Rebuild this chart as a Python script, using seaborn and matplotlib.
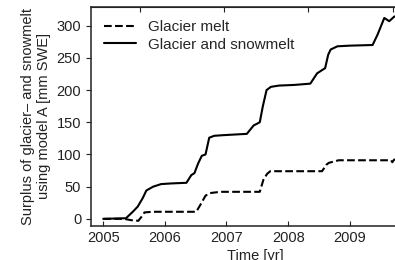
import matplotlib
matplotlib.use("Agg")
import matplotlib.pyplot as plt
import seaborn as sns

# Glacier + snowmelt surplus (model A)
t_both = [2005.0, 2005.37, 2005.48, 2005.56, 2005.64, 2005.7, 2005.81, 2005.94,
          2006.1, 2006.35, 2006.43, 2006.48, 2006.54, 2006.6, 2006.66, 2006.72,
          2006.8, 2006.95, 2007.33, 2007.44, 2007.54, 2007.59, 2007.65, 2007.72,
          2007.85, 2008.1, 2008.36, 2008.47, 2008.55, 2008.6, 2008.65, 2008.69,
          2008.8, 2009.0, 2009.37, 2009.45, 2009.56, 2009.64, 2009.72, 2009.85]
v_both = [0, 1, 11, 19, 32, 44, 50, 54,
          55, 56, 68, 71, 86, 98, 100, 126,
          129, 130, 132, 145, 150, 175, 200, 205,
          207, 208, 210, 226, 231, 234, 255, 263,
          268, 269, 270, 286, 312, 307, 314, 318]

# Glacier melt only
t_glac = [2005.0, 2005.34, 2005.45, 2005.57, 2005.62, 2005.67, 2005.8, 2006.51,
          2006.59, 2006.66, 2006.73, 2006.9, 2007.54, 2007.6, 2007.66, 2007.71,
          2008.55, 2008.62, 2008.66, 2008.82, 2009.67, 2009.69, 2009.72, 2009.85]
v_glac = [0, 0, -2, -3, 3, 10, 11, 11,
          24, 36, 40, 42, 42, 61, 70, 74,
          74, 84, 87, 91, 91, 88, 92, 92]

x_ticks = [2005, 2006, 2007, 2008, 2009, 2010]
y_ticks = [0, 50, 100, 150, 200, 250, 300]
top_ticks = [2005.59, 2006.96, 2008.33, 2009.70]

sns.set_style("ticks")
plt.rcParams['font.family'] = ['Liberation Sans', 'DejaVu Sans']
plt.rcParams['font.size'] = 10.5

fig = plt.figure(figsize=(3.95, 2.6), dpi=100)
ax = fig.add_axes([0.230, 0.131, 0.835, 0.842])

sns.lineplot(x=t_glac, y=v_glac, ax=ax, color='black', lw=1.5, ls='--',
             estimator=None, label='Glacier melt')
sns.lineplot(x=t_both, y=v_both, ax=ax, color='black', lw=1.5,
             estimator=None, label='Glacier and snowmelt')

ax.set_xlim(2004.8, 2010.15)
ax.set_ylim(-11, 329)
ax.set_xticks(x_ticks)
ax.set_yticks(y_ticks)
ax.tick_params(axis='x', direction='in', colors='#222222', labelsize=10.5)
ax.tick_params(axis='y', direction='out', colors='#222222', labelsize=10.5)
for s in ax.spines.values():
    s.set_color('#222222')
    s.set_linewidth(1.1)

secax = ax.secondary_xaxis('top')
secax.set_xticks(top_ticks)
secax.tick_params(direction='in', labeltop=False, colors='#222222')

ax.set_xlabel('Time [yr]', color='#222222', fontsize=10.5, labelpad=3)
ax.set_ylabel('Surplus of glacier\u2013 and snowmelt\nusing model A [mm SWE]',
              color='#222222', fontsize=10.5, labelpad=4)

ax.legend(loc='upper left', frameon=False, fontsize=11, handlelength=2.1,
          handletextpad=0.8, labelspacing=0.25, borderaxespad=0.45)

fig.savefig('out.png', dpi=100)
